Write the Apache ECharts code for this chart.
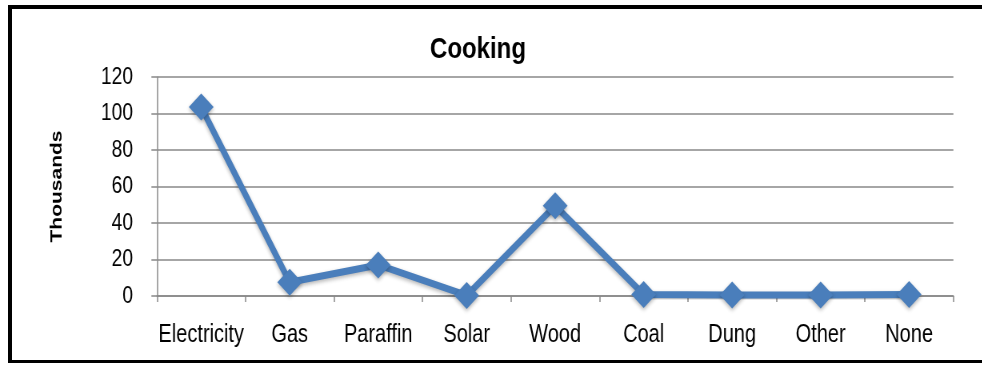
<!DOCTYPE html>
<html>
<head>
<meta charset="utf-8">
<script src="https://cdn.jsdelivr.net/npm/echarts@6/dist/echarts.min.js"></script>
<style>
  html, body { margin: 0; padding: 0; background: #fff; overflow: hidden; }
  /* 原图文字横向偏窄，整体按 0.8 横向压缩 */
  #main { width: 1228px; height: 365px; transform: scaleX(0.8); transform-origin: 0 0; }
</style>
</head>
<body>
<div id="main"></div>
<script>
// 数据
var categories = ['Electricity', 'Gas', 'Paraffin', 'Solar', 'Wood', 'Coal', 'Dung', 'Other', 'None']
var cooking = [103.5, 7.5, 17, 0.3, 49.5, 0.8, 0.6, 0.6, 0.8]
var yTicks = { min: 0, max: 120, interval: 20 }

var sx = 0.8 // 横向压缩比例
var chart = echarts.init(document.getElementById('main'), null, { renderer: 'canvas' })
var gridColor = '#888888'
var font = "'Liberation Sans', Arial, sans-serif"

var option = {
  animation: false,
  title: {
    text: 'Cooking',
    left: 474 / sx,
    top: 30,
    textAlign: 'center',
    textStyle: {
      fontFamily: font,
      fontSize: 30,
      fontWeight: 'bold',
      color: '#000'
    }
  },
  grid: {
    left: 157 / sx,
    right: 29 / sx,
    top: 77,
    bottom: 69
  },
  xAxis: {
    type: 'category',
    data: categories,
    boundaryGap: true,
    axisLine: { lineStyle: { color: gridColor, width: 1.5 } },
    axisTick: { show: true, length: 6, lineStyle: { color: gridColor, width: 1.5 } },
    axisLabel: {
      interval: 0,
      margin: 27,
      color: '#000',
      fontSize: 25,
      fontFamily: font
    }
  },
  yAxis: {
    type: 'value',
    min: yTicks.min,
    max: yTicks.max,
    interval: yTicks.interval,
    name: 'Thousands',
    nameLocation: 'middle',
    nameGap: 92 / sx,
    nameRotate: 90,
    nameTextStyle: {
      fontFamily: font,
      fontSize: 21,
      fontWeight: 'bold',
      color: '#000'
    },
    axisLine: { show: true, lineStyle: { color: gridColor, width: 1.5 } },
    axisTick: { show: true, length: 7, lineStyle: { color: gridColor, width: 1.5 } },
    splitLine: { lineStyle: { color: gridColor, width: 1.5 } },
    axisLabel: {
      margin: 24 / sx,
      color: '#000',
      fontSize: 24,
      fontFamily: font
    }
  },
  series: [{
    name: 'Cooking',
    type: 'line',
    data: cooking,
    symbol: 'diamond',
    symbolSize: [31, 27],
    lineStyle: {
      color: '#4a7ebb',
      width: 7,
      shadowColor: 'rgba(0,0,0,0.3)',
      shadowBlur: 4,
      shadowOffsetY: 2
    },
    itemStyle: {
      color: '#4a7ebb',
      shadowColor: 'rgba(0,0,0,0.3)',
      shadowBlur: 4,
      shadowOffsetY: 2
    },
    emphasis: { disabled: true }
  }],
  graphic: [
    { type: 'rect', shape: { x: 8 / sx, y: 5, width: 1228, height: 4 }, style: { fill: '#000' } },
    { type: 'rect', shape: { x: 8 / sx, y: 5, width: 4 / sx, height: 358 }, style: { fill: '#000' } },
    { type: 'rect', shape: { x: 8 / sx, y: 360, width: 1228, height: 3 }, style: { fill: '#000' } }
  ]
}
chart.setOption(option)
</script>
</body>
</html>
